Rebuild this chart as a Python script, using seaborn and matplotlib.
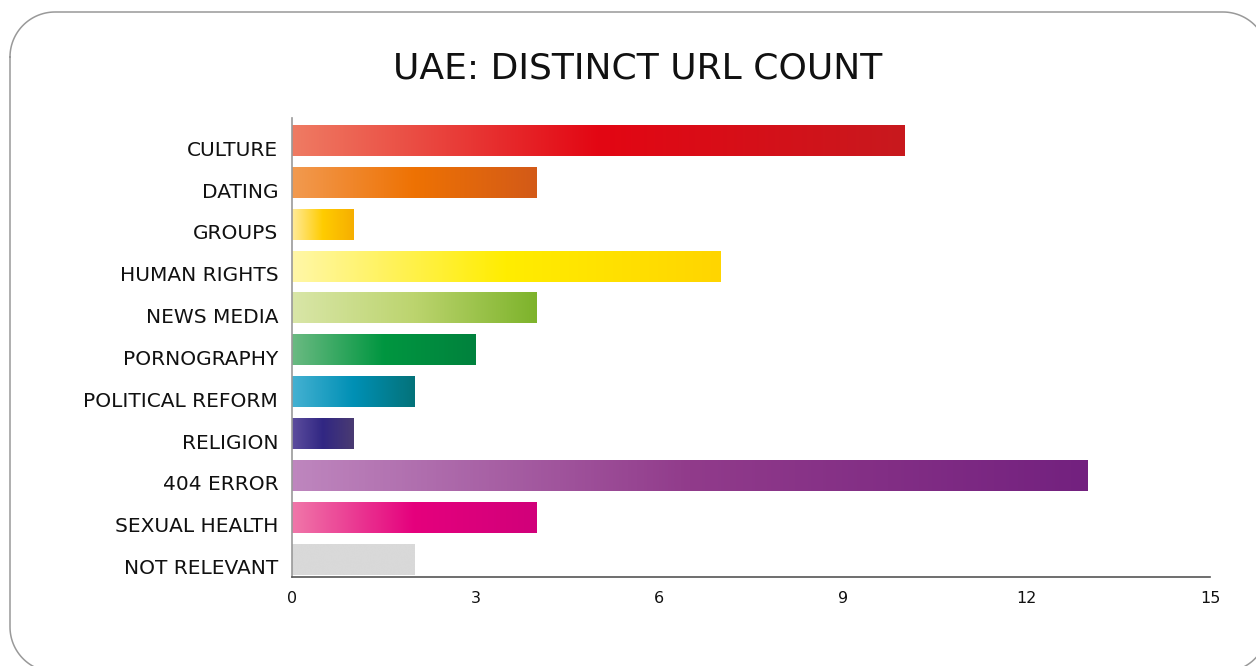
import numpy as np
import pandas as pd
import matplotlib
matplotlib.use("Agg")
import matplotlib.pyplot as plt
import seaborn as sns
from matplotlib.colors import LinearSegmentedColormap
from matplotlib.transforms import ScaledTranslation

categories = ['CULTURE', 'DATING', 'GROUPS', 'HUMAN RIGHTS', 'NEWS MEDIA',
              'PORNOGRAPHY', 'POLITICAL REFORM', 'RELIGION', '404 ERROR',
              'SEXUAL HEALTH', 'NOT RELEVANT']
url_counts = [10, 4, 1, 7, 4, 3, 2, 1, 13, 4, 2]

# light -> saturated -> dark stops for each bar's gradient
gradients = [
    ['#EF7B63', '#E30613', '#C8191E'],
    ['#F29A50', '#EE7203', '#D35A18'],
    ['#FFEB9A', '#FFCC00', '#F6AE00'],
    ['#FFF7A8', '#FFED00', '#FFD500'],
    ['#D9E6A8', '#BCD46E', '#7DB32B'],
    ['#6BBA82', '#009640', '#00823D'],
    ['#45B1D2', '#0090B5', '#047279'],
    ['#5D4E9E', '#312783', '#4A3B72'],
    ['#BE86BE', '#913B8B', '#73217F'],
    ['#F077A9', '#E5007D', '#D1007A'],
    ['#D9D9D9', '#D9D9D9', '#D9D9D9'],
]

df = pd.DataFrame({'category': categories, 'count': url_counts})

sns.set_theme(style="white")
plt.rcParams['font.family'] = ['DejaVu Sans']

fig = plt.figure(figsize=(12.56, 6.66), dpi=100)

# rounded card frame, drawn in pixel coordinates on a background axes
bg = fig.add_axes([0, 0, 1, 1])
bg.set_xlim(0, 1256)
bg.set_ylim(666, 0)
bg.axis('off')
left, top, right, bottom, r = 10, 12, 1268, 672, 45
t = np.linspace(0, np.pi / 2, 30)
xs = np.concatenate([left + r - r * np.cos(t),            # top-left
                     right - r + r * np.sin(t),           # top-right
                     right - r + r * np.cos(t),           # bottom-right
                     left + r - r * np.sin(t),            # bottom-left
                     [left]])
ys = np.concatenate([top + r - r * np.sin(t),
                     top + r - r * np.cos(t),
                     bottom - r + r * np.sin(t),
                     bottom - r + r * np.cos(t),
                     [top + r]])
bg.plot(xs, ys, color='#999999', lw=1.1, clip_on=False)

ax = fig.add_axes([0.2325, 0.1336, 0.7309, 0.6892])

sns.barplot(data=df, x='count', y='category', orient='h', width=0.74,
            color='#cccccc', ax=ax, saturation=1)

grad = np.linspace(0, 1, 256).reshape(1, -1)
for patch, stops in zip(ax.patches, gradients):
    cmap = LinearSegmentedColormap.from_list('g', stops)
    x0, y0 = patch.get_x(), patch.get_y()
    w, h = patch.get_width(), patch.get_height()
    patch.set_facecolor('none')
    patch.set_edgecolor('none')
    im = ax.imshow(grad, cmap=cmap, aspect='auto', interpolation='bicubic',
                   extent=[x0, x0 + w, y0 + h, y0], zorder=2)
    im.set_clip_path(patch)

ax.set_xlim(0, 15)
ax.set_ylim(10.43, -0.54)
ax.set_xticks([0, 3, 6, 9, 12, 15])
ax.set_xlabel('')
ax.set_ylabel('')
ax.tick_params(axis='x', direction='in', length=8.5, width=1, color='#444444',
               labelsize=11.5, pad=10, labelcolor='#111111')
ax.tick_params(axis='y', length=0, labelsize=14.5, pad=10, labelcolor='#111111')
shift = ScaledTranslation(0, -5.5 / 72, fig.dpi_scale_trans)
for lab in ax.get_yticklabels():
    lab.set_transform(lab.get_transform() + shift)

for side in ['top', 'right']:
    ax.spines[side].set_visible(False)
ax.spines['left'].set_color('#999999')
ax.spines['left'].set_linewidth(1.2)
ax.spines['bottom'].set_color('#555555')
ax.spines['bottom'].set_linewidth(1.2)

fig.text(0.5076, 0.897, 'UAE: DISTINCT URL COUNT', ha='center', va='center',
         fontsize=26, color='#111111')

fig.savefig('out.png', dpi=100)
